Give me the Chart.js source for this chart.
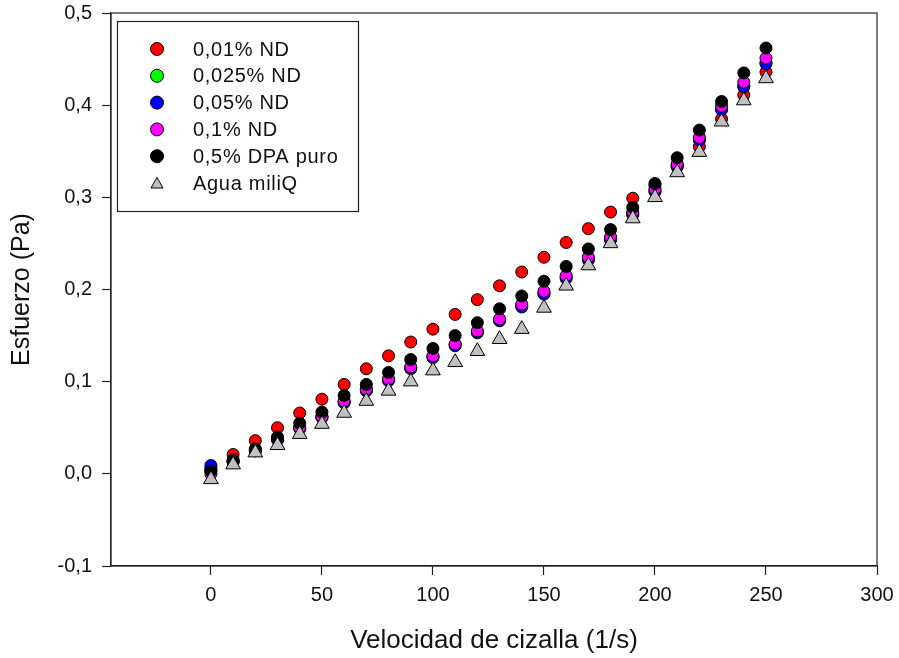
<!DOCTYPE html>
<html>
<head>
<meta charset="utf-8">
<script src="https://cdn.jsdelivr.net/npm/chart.js@4/dist/chart.umd.min.js"></script>
<style>
  html, body { margin: 0; padding: 0; background: #fff; }
  #chart { display: block; }
</style>
</head>
<body>
<canvas id="chart" width="899" height="658"></canvas>
<script>
// shear rate (1/s)
const shearRate = [0, 10, 20, 30, 40, 50, 60, 70, 80, 90, 100, 110, 120, 130, 140, 150, 160, 170, 180, 190, 200, 210, 220, 230, 240, 250];

// stress (Pa) per sample
const nd001 = [0.004, 0.021, 0.036, 0.050, 0.066, 0.081, 0.097, 0.114, 0.128, 0.143, 0.157, 0.173, 0.189, 0.204, 0.219, 0.235, 0.251, 0.266, 0.284, 0.299, 0.313, 0.333, 0.355, 0.385, 0.411, 0.436];
const nd0025 = [0.006, 0.014, 0.026, 0.037, 0.050, 0.062, 0.078, 0.091, 0.102, 0.115, 0.127, 0.140, 0.154, 0.167, 0.182, 0.196, 0.213, 0.233, 0.255, 0.282, 0.307, 0.335, 0.363, 0.396, 0.421, 0.446];
const nd005 = [0.009, 0.013, 0.025, 0.037, 0.049, 0.061, 0.077, 0.090, 0.101, 0.114, 0.126, 0.139, 0.153, 0.166, 0.181, 0.195, 0.212, 0.232, 0.254, 0.281, 0.306, 0.334, 0.362, 0.395, 0.420, 0.445];
const nd01 = [0.000, 0.013, 0.025, 0.038, 0.050, 0.062, 0.079, 0.092, 0.103, 0.116, 0.128, 0.141, 0.155, 0.168, 0.184, 0.198, 0.215, 0.235, 0.257, 0.284, 0.309, 0.336, 0.365, 0.399, 0.425, 0.451];
const dpaPuro = [0.003, 0.015, 0.027, 0.040, 0.055, 0.067, 0.085, 0.097, 0.110, 0.124, 0.136, 0.150, 0.164, 0.179, 0.193, 0.209, 0.225, 0.244, 0.265, 0.289, 0.315, 0.343, 0.373, 0.404, 0.435, 0.462];
const aguaMiliQ = [-0.006, 0.010, 0.023, 0.031, 0.043, 0.054, 0.066, 0.079, 0.090, 0.100, 0.112, 0.121, 0.133, 0.146, 0.157, 0.180, 0.204, 0.226, 0.250, 0.277, 0.300, 0.327, 0.349, 0.382, 0.405, 0.429];

const xTicks = [0, 50, 100, 150, 200, 250, 300];
const yTicks = [-0.1, 0, 0.1, 0.2, 0.3, 0.4, 0.5];

const seriesLabels = ["0,01% ND", "0,025% ND", "0,05% ND", "0,1% ND", "0,5% DPA puro", "Agua miliQ"];
const seriesValues = [nd001, nd0025, nd005, nd01, dpaPuro, aguaMiliQ];
const seriesColors = ["#ff0000", "#00ff00", "#0000ff", "#ff00ff", "#000000", "#c0c0c0"];
const seriesStyles = ["circle", "circle", "circle", "circle", "circle", "triangle"];

const FONT = "'Liberation Sans', Arial, sans-serif";

function toPoints(values) {
  return values.map((v, i) => ({ x: shearRate[i], y: v }));
}

const datasets = seriesValues.map((vals, i) => ({
  label: seriesLabels[i],
  data: toPoints(vals),
  pointStyle: seriesStyles[i],
  backgroundColor: seriesColors[i],
  borderColor: "#000",
  borderWidth: 1,
  pointRadius: seriesStyles[i] === "triangle" ? 8.5 : 6,
  pointHoverRadius: seriesStyles[i] === "triangle" ? 8.5 : 6,
  showLine: false,
  // later series sit on top, like the original
  order: seriesValues.length - i,
}));

// box around the plot area
const frame = {
  id: "frame",
  beforeDatasetsDraw(chart) {
    const { ctx, chartArea: a } = chart;
    ctx.save();
    ctx.strokeStyle = "#222";
    ctx.lineWidth = 1.2;
    ctx.strokeRect(a.left, a.top, a.right - a.left, a.bottom - a.top);
    ctx.restore();
  },
};

// legend box inside the plot
const boxLegend = {
  id: "boxLegend",
  afterDraw(chart) {
    const ctx = chart.ctx;
    ctx.save();
    ctx.fillStyle = "#fff";
    ctx.fillRect(117.5, 21.5, 241, 190);
    ctx.strokeStyle = "#222";
    ctx.lineWidth = 1.2;
    ctx.strokeRect(117.5, 21.5, 241, 190);
    ctx.font = "20px " + FONT;
    ctx.textBaseline = "middle";
    ctx.textAlign = "left";
    if ("letterSpacing" in ctx) ctx.letterSpacing = "0.7px";
    chart.data.datasets.forEach((ds, i) => {
      const y = 49 + i * 26.8;
      ctx.fillStyle = ds.backgroundColor;
      ctx.strokeStyle = "#000";
      ctx.lineWidth = 1;
      Chart.helpers.drawPoint(ctx, {
        pointStyle: ds.pointStyle,
        radius: ds.pointStyle === "triangle" ? 7 : 6.5,
        rotation: 0,
        borderWidth: 1,
      }, 157, ds.pointStyle === "triangle" ? y + 1.5 : y);
      ctx.fillStyle = "#111";
      ctx.fillText(ds.label, 193, y + 1);
    });
    ctx.restore();
  },
};

const config = {
  type: "scatter",
  data: { datasets: datasets },
  options: {
    responsive: false,
    animation: false,
    layout: { padding: { top: 13, right: 22, left: 0, bottom: 0 } },
    plugins: {
      legend: { display: false },
      tooltip: { enabled: false },
    },
    scales: {
      x: {
        type: "linear",
        min: -45,
        max: 300,
        afterBuildTicks: (scale) => { scale.ticks = xTicks.map((v) => ({ value: v })); },
        afterFit: (scale) => {
          scale.height = 92;
          scale.paddingLeft = 0;
          scale.paddingRight = 0;
        },
        ticks: {
          color: "#111",
          font: { family: FONT, size: 20 },
          padding: 8,
          maxRotation: 0,
          callback: (v) => String(v),
        },
        grid: { display: true, drawOnChartArea: false, drawTicks: true, tickLength: 9, tickColor: "#222", tickWidth: 1.2 },
        border: { display: true, color: "#222", width: 1.2 },
        title: {
          display: true,
          text: "Velocidad de cizalla (1/s)",
          color: "#111",
          font: { family: FONT, size: 26 },
          padding: { top: 0, bottom: 2 },
        },
      },
      y: {
        type: "linear",
        min: -0.1,
        max: 0.5,
        afterBuildTicks: (scale) => { scale.ticks = yTicks.map((v) => ({ value: v })); },
        afterFit: (scale) => {
          scale.width = 111;
          scale.paddingTop = 0;
          scale.paddingBottom = 0;
        },
        ticks: {
          color: "#111",
          font: { family: FONT, size: 20 },
          padding: 10,
          callback: (v) => v.toFixed(1).replace(".", ","),
        },
        grid: { display: true, drawOnChartArea: false, drawTicks: true, tickLength: 9, tickColor: "#222", tickWidth: 1.2 },
        border: { display: true, color: "#222", width: 1.2 },
        title: {
          display: true,
          text: "Esfuerzo (Pa)",
          color: "#111",
          font: { family: FONT, size: 25 },
          padding: { top: 7, bottom: 0 },
        },
      },
    },
  },
  plugins: [frame, boxLegend],
};

new Chart(document.getElementById("chart").getContext("2d"), config);
</script>
</body>
</html>
